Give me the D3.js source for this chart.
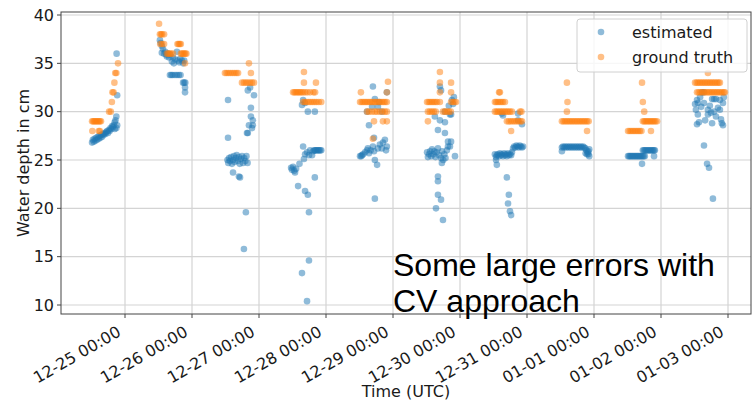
<!DOCTYPE html>
<html>
<head>
<meta charset="UTF-8">
<script src="https://d3js.org/d3.v7.min.js"></script>
<style>
  body { margin: 0; background: #fff; }
  text { font-family: "DejaVu Sans", sans-serif; fill: #1a1a1a; }
</style>
</head>
<body>
<div id="chart"></div>
<script>
// days of the measurement campaign (cluster of points per day)
const dayLabels = ["12-24", "12-25", "12-26", "12-27", "12-28", "12-29", "12-30", "12-31", "01-01", "01-02"];

// [day index, hour UTC, water depth cm]
const estimated = [
  [0,12.2,26.8],[0,12.5,27.1],[0,12.8,26.9],[0,13.1,27.2],[0,13.4,27.0],[0,13.7,27.3],[0,14.0,27.1],[0,14.3,27.4],[0,14.6,27.2],[0,14.9,27.5],[0,15.2,27.3],[0,15.5,27.6],[0,15.8,27.4],[0,16.1,27.7],[0,16.4,27.6],[0,16.7,27.8],[0,17.0,27.7],[0,17.3,27.9],[0,17.6,28.0],[0,17.9,27.8],[0,18.2,28.1],[0,18.5,28.0],[0,18.8,28.3],[0,19.1,28.2],[0,19.4,28.5],[0,19.7,28.4],[0,20.0,28.6],[0,20.3,28.9],[0,20.3,28.2],[0,20.6,29.1],[0,20.9,28.3],[0,20.9,29.5],[0,21.2,28.6],[0,21.2,31.7],[0,21.0,36.0],
  [1,12.5,37.4],[1,12.8,37.1],[1,13.2,36.8],[1,13.2,36.1],[1,13.6,36.5],[1,14.0,36.0],[1,14.4,36.2],[1,14.8,35.9],[1,15.0,35.7],[1,15.4,36.0],[1,15.8,35.6],[1,16.2,35.9],[1,16.8,35.2],[1,17.2,35.6],[1,17.5,35.0],[1,18.0,35.4],[1,18.6,36.2],[1,19.0,35.3],[1,19.4,35.1],[1,19.8,35.5],[1,20.4,35.3],[1,20.8,35.0],[1,21.2,35.3],[1,16.1,33.8],[1,16.6,33.8],[1,17.1,33.8],[1,17.9,33.8],[1,18.6,33.8],[1,19.3,33.8],[1,19.9,33.8],[1,20.8,33.0],[1,21.2,33.0],[1,21.6,33.0],[1,21.5,32.5],[1,21.5,32.0],
  [2,12.9,31.2],[2,12.9,27.3],[2,12.7,25.0],[2,13.0,24.7],[2,13.3,25.2],[2,13.6,24.9],[2,14.0,25.3],[2,14.3,24.6],[2,14.7,25.0],[2,15.0,25.4],[2,15.3,24.8],[2,15.7,25.2],[2,16.0,25.5],[2,16.4,24.9],[2,16.8,25.3],[2,17.1,24.6],[2,17.5,25.1],[2,17.9,25.4],[2,18.3,24.7],[2,18.7,25.2],[2,19.1,24.9],[2,19.5,25.4],[2,19.9,24.7],[2,14.7,23.7],[2,17.2,23.2],[2,16.8,23.3],[2,19.3,19.6],[2,18.6,15.8],[2,20.0,32.2],[2,20.8,32.5],[2,22.2,31.7],[2,21.1,30.4],[2,21.1,29.5],[2,21.8,29.1],[2,20.4,28.6],[2,21.8,28.6],[2,20.0,27.8],[2,19.7,27.8],[2,21.5,28.3],
  [3,11.5,24.2],[3,11.8,24.0],[3,12.2,24.3],[3,12.6,23.9],[3,12.9,23.7],[3,13.3,24.1],[3,14.0,22.3],[3,16.5,21.8],[3,17.5,21.4],[3,17.9,19.6],[3,17.9,14.6],[3,15.4,13.3],[3,17.2,10.4],[3,20.0,23.2],[3,16.1,25.1],[3,16.5,25.6],[3,15.8,26.4],[3,17.2,25.8],[3,17.9,25.5],[3,18.3,26.0],[3,19.0,25.5],[3,19.4,25.9],[3,19.7,26.0],[3,20.1,26.0],[3,20.4,26.0],[3,20.8,26.0],[3,21.2,26.0],[3,21.5,26.0],[3,21.9,26.0],[3,22.3,26.0],[3,15.8,31.2],[3,16.5,30.9],[3,17.5,30.0],[3,20.0,30.0],[3,15.4,30.7],[3,14.5,24.6],
  [4,12.2,25.4],[4,12.6,25.4],[4,12.9,25.5],[4,13.3,25.6],[4,14.0,25.8],[4,14.7,26.0],[4,15.0,26.2],[4,15.4,25.7],[4,16.0,26.0],[4,16.8,26.4],[4,17.2,25.9],[4,17.5,25.0],[4,18.3,24.5],[4,18.6,26.2],[4,19.3,26.6],[4,20.0,26.2],[4,20.4,26.8],[4,21.1,27.1],[4,21.8,26.4],[4,21.5,26.0],[4,15.4,28.6],[4,17.2,27.3],[4,17.5,21.0],[4,16.8,32.6],[4,14.7,30.0],[4,16.5,30.5],[4,18.6,30.5],[4,20.0,30.0],[4,21.8,32.0],[4,19.0,31.0],[4,17.5,31.3],
  [5,12.2,25.8],[5,12.5,25.3],[5,12.9,25.6],[5,13.3,25.9],[5,13.7,25.4],[5,14.0,26.1],[5,14.4,25.6],[5,14.8,25.9],[5,15.2,25.3],[5,15.6,25.8],[5,16.1,26.2],[5,16.5,25.5],[5,17.2,25.2],[5,17.6,25.9],[5,18.0,25.0],[5,18.4,25.6],[5,18.8,25.2],[5,19.3,26.0],[5,19.7,26.4],[5,20.4,26.4],[5,20.8,26.9],[5,22.2,25.4],[5,16.1,28.1],[5,18.6,27.8],[5,19.7,26.9],[5,17.5,24.7],[5,16.1,23.3],[5,16.1,22.8],[5,16.1,21.4],[5,17.2,20.9],[5,15.4,20.0],[5,17.9,18.8],[5,16.8,32.6],[5,17.2,32.2],[5,21.1,31.2],[5,21.5,30.8],[5,18.6,30.0],[5,20.4,29.7],[5,20.8,29.7],[5,15.0,29.5],[5,16.8,29.1],[5,18.6,28.9],[5,20.0,30.6],[5,21.8,31.5],
  [6,12.5,25.6],[6,12.9,25.3],[6,13.2,25.5],[6,13.6,25.6],[6,14.0,25.4],[6,14.3,25.7],[6,14.7,25.5],[6,15.0,25.6],[6,15.4,25.4],[6,15.8,25.7],[6,16.1,25.5],[6,16.5,25.6],[6,16.8,25.4],[6,17.2,25.7],[6,17.5,25.5],[6,17.9,25.6],[6,18.3,25.5],[6,18.6,25.8],[6,19.0,26.2],[6,19.4,26.4],[6,19.8,26.3],[6,20.2,26.5],[6,20.6,26.4],[6,21.0,26.3],[6,21.4,26.5],[6,21.8,26.4],[6,22.2,26.3],[6,22.6,26.4],[6,12.9,25.0],[6,13.2,24.5],[6,16.8,23.2],[6,17.5,21.4],[6,17.2,20.5],[6,17.9,19.7],[6,18.3,19.3],[6,15.0,29.8],[6,15.4,29.6],[6,20.8,29.1],[6,22.2,28.7],[6,20.8,29.8],
  [7,12.5,26.3],[7,12.9,26.4],[7,13.3,26.3],[7,13.7,26.4],[7,14.1,26.3],[7,14.5,26.4],[7,14.9,26.3],[7,15.3,26.4],[7,15.7,26.3],[7,16.1,26.4],[7,16.5,26.3],[7,16.9,26.4],[7,17.3,26.3],[7,17.7,26.4],[7,18.1,26.3],[7,18.5,26.4],[7,18.9,26.3],[7,19.3,26.4],[7,19.7,26.3],[7,20.1,26.4],[7,20.5,26.3],[7,20.9,26.2],[7,21.3,26.0],[7,21.7,25.8],[7,22.0,25.6],[7,22.3,25.4],[7,12.5,25.9],[7,21.5,25.6],[7,22.0,25.9],[7,22.3,26.1],[7,21.0,25.7],
  [8,12.2,25.4],[8,12.6,25.4],[8,13.0,25.4],[8,13.4,25.4],[8,13.8,25.4],[8,14.2,25.4],[8,14.6,25.4],[8,15.0,25.4],[8,15.4,25.4],[8,15.8,25.4],[8,16.2,25.4],[8,16.6,25.4],[8,17.0,25.4],[8,17.4,25.4],[8,17.8,25.4],[8,18.2,25.4],[8,17.5,26.0],[8,17.9,26.0],[8,18.3,26.0],[8,18.7,26.0],[8,19.1,26.0],[8,19.5,26.0],[8,19.9,26.0],[8,20.3,26.0],[8,20.7,26.0],[8,21.1,26.0],[8,21.5,26.0],[8,21.8,26.0],[8,17.2,24.6],[8,21.5,25.4],
  [9,12.9,31.2],[9,13.2,30.9],[9,14.0,31.5],[9,14.7,32.0],[9,15.4,32.0],[9,15.4,30.9],[9,18.3,31.3],[9,19.0,31.3],[9,19.7,31.3],[9,21.1,31.2],[9,22.2,30.9],[9,16.8,29.7],[9,17.9,29.9],[9,13.2,29.7],[9,12.9,28.7],[9,15.8,29.1],[9,19.7,29.5],[9,21.5,29.2],[9,21.8,28.8],[9,22.2,28.6],[9,18.3,28.8],[9,14.4,30.5],[9,16.8,30.2],[9,20.4,30.4],[9,12.5,30.2],[9,15.4,26.5],[9,16.5,24.6],[9,17.2,24.2],[9,18.6,21.0],[9,13.6,28.9],[9,17.5,30.6],[9,21.1,30.2],[9,12.2,30.8],[9,19.0,30.0],[9,22.5,31.5]
];

const groundTruth = [
  [0,12.2,29],[0,12.6,29],[0,13.0,29],[0,13.4,29],[0,13.8,29],[0,14.2,29],[0,14.6,29],[0,15.0,29],[0,15.4,29],[0,12.3,28],[0,14.6,28],[0,15.0,28],[0,18.3,30],[0,18.9,30],[0,19.3,31],[0,19.5,32],[0,19.9,32],[0,20.2,33],[0,20.5,34],[0,20.9,34],[0,21.5,35],
  [1,12.2,39.1],[1,12.5,38],[1,12.9,38],[1,13.3,38],[1,14.0,38],[1,12.6,37],[1,13.3,37],[1,14.0,37],[1,15.0,36],[1,15.5,36],[1,16.0,36],[1,16.5,36],[1,17.2,36],[1,18.8,37],[1,19.2,37],[1,19.6,37],[1,20.0,37],[1,20.0,36],[1,20.4,36],[1,20.8,36],[1,21.2,36],[1,21.6,36],[1,22.0,36],[1,21.5,35],
  [2,11.8,34],[2,12.4,34],[2,13.1,34],[2,13.8,34],[2,14.5,34],[2,15.2,34],[2,15.9,34],[2,16.5,34],[2,20.4,35],[2,21.1,34],[2,17.9,33],[2,18.6,33],[2,19.3,33],[2,20.0,33],[2,20.8,33],[2,21.5,33],[2,22.2,33],
  [3,16.1,34.1],[3,16.1,33],[3,20.4,33],[3,12.2,32],[3,12.7,32],[3,13.2,32],[3,13.7,32],[3,14.2,32],[3,14.7,32],[3,15.2,32],[3,15.8,32],[3,16.5,32],[3,17.3,32],[3,18.3,32],[3,19.5,32],[3,20.1,32],[3,15.8,31],[3,16.4,31],[3,17.1,31],[3,17.8,31],[3,18.5,31],[3,19.2,31],[3,19.9,31],[3,20.6,31],[3,21.4,31],[3,22.3,31],
  [4,12.2,31],[4,12.8,31],[4,13.4,31],[4,14.0,31],[4,14.6,31],[4,15.2,31],[4,15.8,31],[4,16.4,31],[4,17.0,31],[4,17.6,31],[4,18.2,31],[4,18.8,31],[4,19.4,31],[4,20.0,31],[4,20.6,31],[4,21.2,31],[4,21.8,31],[4,14.7,30],[4,15.4,30],[4,16.5,30],[4,17.5,30],[4,18.3,30],[4,19.3,30],[4,20.3,30],[4,21.1,30],[4,21.8,30],[4,12.5,32],[4,22.2,33.1],[4,21.8,32],[4,17.2,29],[4,21.8,29],[4,20.4,29],[4,16.8,27.2],
  [5,16.8,34.1],[5,16.8,33],[5,20.8,33],[5,16.8,32],[5,20.8,32],[5,12.2,31],[5,12.8,31],[5,13.4,31],[5,14.0,31],[5,14.6,31],[5,15.2,31],[5,15.8,31],[5,16.8,31],[5,20.8,31],[5,21.4,31],[5,22.0,31],[5,22.6,31],[5,12.5,30],[5,13.2,30],[5,13.9,30],[5,14.6,30],[5,15.3,30],[5,17.9,30],[5,18.6,30],[5,19.3,30],[5,20.0,30],[5,20.7,30],[5,12.5,29],
  [6,14.0,32],[6,14.3,32],[6,12.5,31],[6,13.0,31],[6,13.6,31],[6,14.2,31],[6,14.8,31],[6,15.4,31],[6,16.1,31],[6,12.5,30],[6,13.1,30],[6,13.7,30],[6,14.3,30],[6,14.9,30],[6,15.5,30],[6,16.1,30],[6,16.7,30],[6,17.3,30],[6,17.9,30],[6,18.6,30],[6,21.5,30],[6,22.0,30],[6,16.8,29],[6,17.5,29],[6,18.2,29],[6,18.9,29],[6,19.6,29],[6,20.3,29],[6,21.0,29],[6,21.7,29],[6,22.2,29],[6,18.3,28],
  [7,14.3,33],[7,14.5,31],[7,14.3,30],[7,12.5,29],[7,13.1,29],[7,13.7,29],[7,14.3,29],[7,14.9,29],[7,15.5,29],[7,16.1,29],[7,16.7,29],[7,17.3,29],[7,17.9,29],[7,18.5,29],[7,19.1,29],[7,19.7,29],[7,20.3,29],[7,20.9,29],[7,21.5,29],[7,22.1,29],[7,21.5,28],
  [8,17.2,33],[8,17.5,31],[8,18.0,30],[8,17.5,29],[8,18.0,29],[8,18.5,29],[8,19.0,29],[8,19.5,29],[8,20.0,29],[8,20.5,29],[8,21.0,29],[8,21.5,29],[8,22.0,29],[8,22.6,29],[8,12.2,28],[8,12.8,28],[8,13.4,28],[8,14.0,28],[8,14.6,28],[8,15.2,28],[8,15.8,28],[8,16.4,28],[8,17.0,28],[8,20.4,28],
  [9,16.8,34],[9,12.2,33],[9,12.8,33],[9,13.4,33],[9,14.0,33],[9,14.6,33],[9,15.2,33],[9,15.8,33],[9,16.4,33],[9,17.0,33],[9,17.6,33],[9,18.2,33],[9,18.8,33],[9,19.4,33],[9,20.0,33],[9,20.6,33],[9,21.1,33],[9,12.9,32],[9,13.5,32],[9,14.1,32],[9,14.7,32],[9,15.3,32],[9,15.9,32],[9,16.5,32],[9,17.1,32],[9,17.7,32],[9,18.3,32],[9,18.9,32],[9,19.5,32],[9,20.1,32],[9,20.7,32],[9,21.3,32],[9,21.9,32],[9,22.5,32],[9,22.9,32]
];

const yTicks = [10, 15, 20, 25, 30, 35, 40];
const seriesNames = ["estimated", "ground truth"];
const seriesColors = ["#1f77b4", "#ff7f0e"];
const note = ["Some large errors with", "CV approach"];

const W = 755, H = 405;
const margin = { top: 12, right: 4, bottom: 91, left: 61 };
const width = W - margin.left - margin.right,
  height = H - margin.top - margin.bottom;

// day index + hour -> UTC date
function toDate(d) {
  const [m, day] = dayLabels[d[0]].split("-").map(Number);
  const year = m == 12 ? 2020 : 2021;
  return new Date(Date.UTC(year, m - 1, day) + d[1] * 3600e3);
}

const svg = d3.select("#chart").append("svg")
  .attr("width", W).attr("height", H);
const g = svg.append("g")
  .attr("transform", "translate(" + margin.left + "," + margin.top + ")");

const x = d3.scaleUtc()
  .domain([new Date(Date.UTC(2020, 11, 25)), new Date(Date.UTC(2021, 0, 3))])
  .range([64, 667]);
const y = d3.scaleLinear().domain([10, 40]).range([293, 3]);

const xTicks = d3.utcDay.range(new Date(Date.UTC(2020, 11, 25)), new Date(Date.UTC(2021, 0, 3, 1)));
const fmt = d3.utcFormat("%m-%d %H:%M");

// grid
g.append("g").selectAll("line").data(xTicks).join("line")
  .attr("x1", d => x(d)).attr("x2", d => x(d))
  .attr("y1", 0).attr("y2", height)
  .attr("stroke", "#d4d4d4").attr("stroke-width", 1.2);
g.append("g").selectAll("line").data(yTicks).join("line")
  .attr("x1", 0).attr("x2", width)
  .attr("y1", d => y(d)).attr("y2", d => y(d))
  .attr("stroke", "#d4d4d4").attr("stroke-width", 1.2);

// points
[estimated, groundTruth].forEach((series, i) => {
  g.append("g").selectAll("circle").data(series).join("circle")
    .attr("cx", d => x(toDate(d)))
    .attr("cy", d => y(d[2]))
    .attr("r", 3.3)
    .attr("fill", seriesColors[i])
    .attr("fill-opacity", 0.5);
});

// frame
g.append("rect").attr("width", width).attr("height", height)
  .attr("fill", "none").attr("stroke", "#444").attr("stroke-width", 1);

// x ticks
const xt = g.append("g").selectAll("g").data(xTicks).join("g");
xt.append("line")
  .attr("x1", d => x(d)).attr("x2", d => x(d))
  .attr("y1", height).attr("y2", height + 4)
  .attr("stroke", "#444");
xt.append("text")
  .attr("transform", d => "translate(" + (x(d) - 3) + "," + (height + 21) + ") rotate(-30)")
  .attr("text-anchor", "end")
  .style("font-size", "16px")
  .text(d => fmt(d));

// y ticks
const yt = g.append("g").selectAll("g").data(yTicks).join("g");
yt.append("line")
  .attr("x1", -4).attr("x2", 0)
  .attr("y1", d => y(d)).attr("y2", d => y(d))
  .attr("stroke", "#444");
yt.append("text")
  .attr("x", -7).attr("y", d => y(d)).attr("dy", "0.36em")
  .attr("text-anchor", "end")
  .style("font-size", "16px")
  .text(d => d);

// axis labels
svg.append("text")
  .attr("transform", "translate(29," + (margin.top + height / 2) + ") rotate(-90)")
  .attr("text-anchor", "middle")
  .style("font-size", "16px")
  .text("Water depth in cm");
svg.append("text")
  .attr("x", margin.left + width / 2).attr("y", 397)
  .attr("text-anchor", "middle")
  .style("font-size", "16px")
  .text("Time (UTC)");

// legend
const leg = svg.append("g").attr("transform", "translate(577,19)");
leg.append("rect").attr("width", 170).attr("height", 53).attr("rx", 3)
  .attr("fill", "#fff").attr("fill-opacity", 0.8)
  .attr("stroke", "#d0d0d0");
seriesNames.forEach((name, i) => {
  leg.append("circle").attr("cx", 24).attr("cy", 13 + i * 25).attr("r", 3.3)
    .attr("fill", seriesColors[i]).attr("fill-opacity", 0.5);
  leg.append("text").attr("x", 55).attr("y", 19 + i * 25)
    .style("font-size", "16px").text(name);
});

// annotation
svg.append("g").selectAll("text").data(note).join("text")
  .attr("x", 393).attr("y", (d, i) => 276 + i * 36)
  .style("font-family", "'Liberation Sans', Arial, sans-serif")
  .style("font-size", "32px")
  .style("fill", "#000")
  .text(d => d);
</script>
</body>
</html>
